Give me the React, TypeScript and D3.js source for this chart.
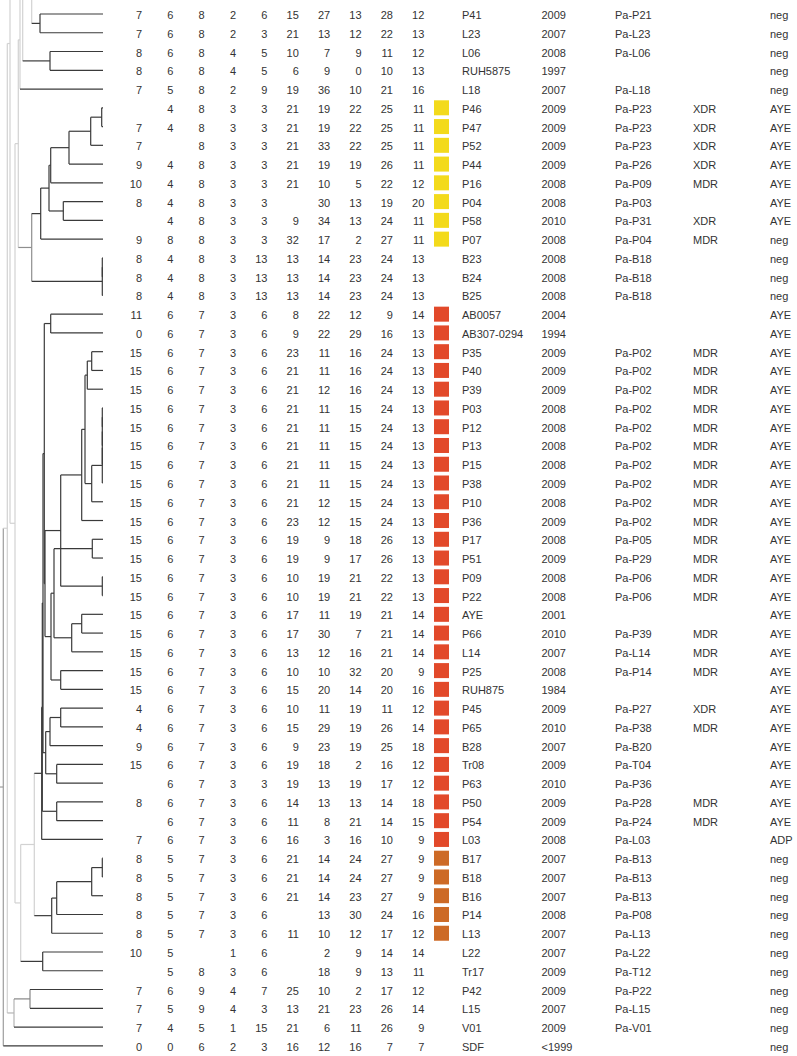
import React from "react";
import * as d3 from "d3";

// ---------- DATA ----------
const isolates = ["P41","L23","L06","RUH5875","L18","P46","P47","P52","P44","P16","P04","P58","P07","B23","B24","B25","AB0057","AB307-0294","P35","P40","P39","P03","P12","P13","P15","P38","P10","P36","P17","P51","P09","P22","AYE","P66","L14","P25","RUH875","P45","P65","B28","Tr08","P63","P50","P54","L03","B17","B18","B16","P14","L13","L22","Tr17","P42","L15","V01","SDF"];

const years = ["2009","2007","2008","1997","2007","2009","2009","2009","2009","2008","2008","2010","2008","2008","2008","2008","2004","1994","2009","2009","2009","2008","2008","2008","2008","2009","2008","2009","2008","2009","2008","2008","2001","2010","2007","2008","1984","2009","2010","2007","2009","2010","2009","2009","2008","2007","2007","2007","2008","2007","2007","2009","2009","2007","2009","<1999"];

const pulsotypes = ["Pa-P21","Pa-L23","Pa-L06","","Pa-L18","Pa-P23","Pa-P23","Pa-P23","Pa-P26","Pa-P09","Pa-P03","Pa-P31","Pa-P04","Pa-B18","Pa-B18","Pa-B18","","","Pa-P02","Pa-P02","Pa-P02","Pa-P02","Pa-P02","Pa-P02","Pa-P02","Pa-P02","Pa-P02","Pa-P02","Pa-P05","Pa-P29","Pa-P06","Pa-P06","","Pa-P39","Pa-L14","Pa-P14","","Pa-P27","Pa-P38","Pa-B20","Pa-T04","Pa-P36","Pa-P28","Pa-P24","Pa-L03","Pa-B13","Pa-B13","Pa-B13","Pa-P08","Pa-L13","Pa-L22","Pa-T12","Pa-P22","Pa-L15","Pa-V01",""];

const resistance = ["","","","","","XDR","XDR","XDR","XDR","MDR","","XDR","MDR","","","","","","MDR","MDR","MDR","MDR","MDR","MDR","MDR","MDR","MDR","MDR","MDR","MDR","MDR","MDR","","MDR","MDR","MDR","","XDR","MDR","","","","MDR","MDR","","","","","","","","","","","",""];

const islandType = ["neg","neg","neg","neg","neg","AYE","AYE","AYE","AYE","AYE","AYE","AYE","neg","neg","neg","neg","AYE","AYE","AYE","AYE","AYE","AYE","AYE","AYE","AYE","AYE","AYE","AYE","AYE","AYE","AYE","AYE","AYE","AYE","AYE","AYE","AYE","AYE","AYE","AYE","AYE","AYE","AYE","AYE","ADP","neg","neg","neg","neg","neg","neg","neg","neg","neg","neg","neg"];

const N = null;
const vntr: (number | null)[][] = [
  [7,6,8,2,6,15,27,13,28,12],
  [7,6,8,2,3,21,13,12,22,13],
  [8,6,8,4,5,10,7,9,11,12],
  [8,6,8,4,5,6,9,0,10,13],
  [7,5,8,2,9,19,36,10,21,16],
  [N,4,8,3,3,21,19,22,25,11],
  [7,4,8,3,3,21,19,22,25,11],
  [7,N,8,3,3,21,33,22,25,11],
  [9,4,8,3,3,21,19,19,26,11],
  [10,4,8,3,3,21,10,5,22,12],
  [8,4,8,3,3,N,30,13,19,20],
  [N,4,8,3,3,9,34,13,24,11],
  [9,8,8,3,3,32,17,2,27,11],
  [8,4,8,3,13,13,14,23,24,13],
  [8,4,8,3,13,13,14,23,24,13],
  [8,4,8,3,13,13,14,23,24,13],
  [11,6,7,3,6,8,22,12,9,14],
  [0,6,7,3,6,9,22,29,16,13],
  [15,6,7,3,6,23,11,16,24,13],
  [15,6,7,3,6,21,11,16,24,13],
  [15,6,7,3,6,21,12,16,24,13],
  [15,6,7,3,6,21,11,15,24,13],
  [15,6,7,3,6,21,11,15,24,13],
  [15,6,7,3,6,21,11,15,24,13],
  [15,6,7,3,6,21,11,15,24,13],
  [15,6,7,3,6,21,11,15,24,13],
  [15,6,7,3,6,21,12,15,24,13],
  [15,6,7,3,6,23,12,15,24,13],
  [15,6,7,3,6,19,9,18,26,13],
  [15,6,7,3,6,19,9,17,26,13],
  [15,6,7,3,6,10,19,21,22,13],
  [15,6,7,3,6,10,19,21,22,13],
  [15,6,7,3,6,17,11,19,21,14],
  [15,6,7,3,6,17,30,7,21,14],
  [15,6,7,3,6,13,12,16,21,14],
  [15,6,7,3,6,10,10,32,20,9],
  [15,6,7,3,6,15,20,14,20,16],
  [4,6,7,3,6,10,11,19,11,12],
  [4,6,7,3,6,15,29,19,26,14],
  [9,6,7,3,6,9,23,19,25,18],
  [15,6,7,3,6,19,18,2,16,12],
  [N,6,7,3,3,19,13,19,17,12],
  [8,6,7,3,6,14,13,13,14,18],
  [N,6,7,3,6,11,8,21,14,15],
  [7,6,7,3,6,16,3,16,10,9],
  [8,5,7,3,6,21,14,24,27,9],
  [8,5,7,3,6,21,14,24,27,9],
  [8,5,7,3,6,21,14,23,27,9],
  [8,5,7,3,6,N,13,30,24,16],
  [8,5,7,3,6,11,10,12,17,12],
  [10,5,N,1,6,N,2,9,14,14],
  [N,5,8,3,6,N,18,9,13,11],
  [7,6,9,4,7,25,10,2,17,12],
  [7,5,9,4,3,13,21,23,26,14],
  [7,4,5,1,15,21,6,11,26,9],
  [0,0,6,2,3,16,12,16,7,7],
];

// cluster membership per row: "Y" yellow, "R" red, "O" orange, "" none
const clusterOf = [
  "","","","","","Y","Y","Y","Y","Y","Y","Y","Y","","","",
  "R","R","R","R","R","R","R","R","R","R","R","R","R","R","R","R","R","R","R","R","R","R","R","R","R","R","R","R","R",
  "O","O","O","O","O","","","","","","",
];
const clusterColors: Record<string, string> = { Y: "#F3DA1B", R: "#E2492A", O: "#CD6A26" };

// Dendrogram: [distance from tips, support shade (0 light .. 1 dark), left, right]; leaves = row index (negative = branch continuing above figure)
type T = number | [number, number, T, T];
const n01: T = [63, 1, 0, 1];
const n23: T = [53, 1, 2, 3];
const nA: T = [71.3, 0, -3, n01];
const nB: T = [80.3, 0, -5, n23];
const nTop: T = [82, 0, nA, nB];
const nC: T = [83, 0, nTop, 4];
const y1: T = [1.3, 1, 5, 6];
const y2: T = [12.3, 1, y1, 7];
const y3: T = [34, 1, y2, 8];
const y4: T = [52.3, 1, y3, 9];
const y5: T = [39.7, 1, 10, 11];
const y6: T = [54, 1, y4, y5];
const y7: T = [62.3, 1, y6, 12];
const b1: T = [0.7, 1, 13, 14];
const b2: T = [0.7, 1, b1, 15];
const nYB: T = [71.3, 0.45, y7, b2];
const nW: T = [84.7, 0, nC, nYB];
const rAB: T = [52.3, 1, 16, 17];
const r1: T = [11.3, 1, 18, 19];
const r2: T = [15.7, 1, r1, 20];
const l1: T = [0.7, 1, 21, 22];
const l2: T = [0.7, 1, l1, 23];
const l3: T = [0.7, 1, l2, 24];
const l4: T = [0.7, 1, l3, 25];
const r3: T = [11.3, 1, l4, 26];
const r4: T = [18, 1, r2, r3];
const r5: T = [21.3, 1, r4, 27];
const r6: T = [0.7, 1, 30, 31];
const rR2: T = [42.3, 1, r5, r6];
const r7: T = [10.7, 1, 28, 29];
const r8: T = [21.3, 1, 32, 33];
const r9: T = [31.3, 1, r8, 34];
const r10: T = [49, 1, r7, r9];
const r11: T = [42.3, 1, 35, 36];
const rR3: T = [52, 1, r10, r11];
const rR4: T = [58, 1, rR2, rR3];
const rM: T = [58.7, 1, rAB, rR4];
const r12: T = [42.3, 1, 37, 38];
const r13: T = [53, 1, r12, 39];
const r14: T = [46.3, 1, 40, 41];
const rR5: T = [57.3, 1, r13, r14];
const rJ: T = [60, 1, rM, rR5];
const rR6: T = [46.3, 1, 42, 43];
const rK: T = [60.7, 1, rJ, rR6];
const rRoot: T = [61.3, 1, rK, 44];
const o1: T = [0.7, 1, 45, 46];
const o2: T = [11.3, 1, o1, 47];
const o3: T = [46.3, 1, o2, 48];
const oRoot: T = [51.3, 1, o3, 49];
const nQ: T = [68.7, 0, rRoot, oRoot];
const nLT: T = [60.3, 1, 50, 51];
const nS: T = [82.3, 0, nQ, nLT];
const nV: T = [88, 0, nW, nS];
const nX10: T = [93, 0, -24, nV];
const nPL: T = [73, 0.5, 52, 53];
const nPLV: T = [89, 0.2, nPL, 54];
const nX7: T = [95.7, 0, nX10, nPLV];
const treeRoot: T = [99.7, 0.35, nX7, 55];

// ---------- LAYOUT ----------
const W = 797, H = 1056;
const yScale = d3.scaleLinear().domain([0, 55]).range([14, 1045.8]);
const xTree = d3.scaleLinear().domain([0, 100]).range([103, 3]);
const colX = d3.scaleLinear().domain([0, 9]).range([142, 424.3]);
const shade = d3.scaleLinear<string>().domain([0, 1]).range(["#d2d2d2", "#3a3a3a"]);
const font = "'Liberation Sans', Arial, Helvetica, sans-serif";
const textColor = "#333";

export default function App() {
  const root = d3.hierarchy<T>(treeRoot, (d) => (Array.isArray(d) ? [d[2], d[3]] : null));
  const pos = new Map<any, { x: number; y: number }>();
  root.eachAfter((n: any) => {
    if (n.children) {
      const y = d3.mean(n.children, (c: any) => pos.get(c)!.y)!;
      pos.set(n, { x: xTree((n.data as any)[0]), y });
    } else {
      pos.set(n, { x: xTree(0), y: yScale(n.data as number) });
    }
  });
  const colorOf = (n: any) => (n.children ? shade((n.data as any)[1]) : "#3a3a3a");

  const lines: JSX.Element[] = [];
  let k = 0;
  root.each((n: any) => {
    const p = pos.get(n)!;
    if (n.children) {
      const c0 = pos.get(n.children[0])!, c1 = pos.get(n.children[1])!;
      lines.push(<line key={k++} x1={p.x} x2={p.x} y1={Math.min(c0.y, c1.y)} y2={Math.max(c0.y, c1.y)} stroke={colorOf(n)} strokeWidth={1.2} />);
    }
    if (n.parent) {
      const pp = pos.get(n.parent)!;
      lines.push(<line key={k++} x1={pp.x} x2={p.x} y1={p.y} y2={p.y} stroke={colorOf(n)} strokeWidth={1.2} />);
    } else {
      lines.push(<line key={k++} x1={0} x2={p.x} y1={p.y} y2={p.y} stroke={colorOf(n)} strokeWidth={1.2} />);
    }
  });

  return (
    <svg width={W} height={H} style={{ position: "absolute", left: 0, top: 0, background: "#fff" }} fontFamily={font} fontSize={11}>
      <rect width={W} height={H} fill="#fff" />
      <g>{lines}</g>
      <g fill={textColor}>
        {vntr.map((row, i) =>
          row.map((v, j) =>
            v === null ? null : (
              <text key={`v${i}-${j}`} x={colX(j)} y={yScale(i) + 5} textAnchor="end">{v}</text>
            )
          )
        )}
      </g>
      <g>
        {clusterOf.map((c, i) =>
          c ? <rect key={`c${i}`} x={434} y={yScale(i) - 7.5} width={15} height={15} fill={clusterColors[c]} /> : null
        )}
      </g>
      <g fill={textColor}>
        {isolates.map((s, i) => (
          <g key={`l${i}`}>
            <text x={462} y={yScale(i) + 5}>{s}</text>
            <text x={541.5} y={yScale(i) + 5}>{years[i]}</text>
            {pulsotypes[i] && <text x={615} y={yScale(i) + 5}>{pulsotypes[i]}</text>}
            {resistance[i] && <text x={693} y={yScale(i) + 5}>{resistance[i]}</text>}
            <text x={770} y={yScale(i) + 5}>{islandType[i]}</text>
          </g>
        ))}
      </g>
    </svg>
  );
}
